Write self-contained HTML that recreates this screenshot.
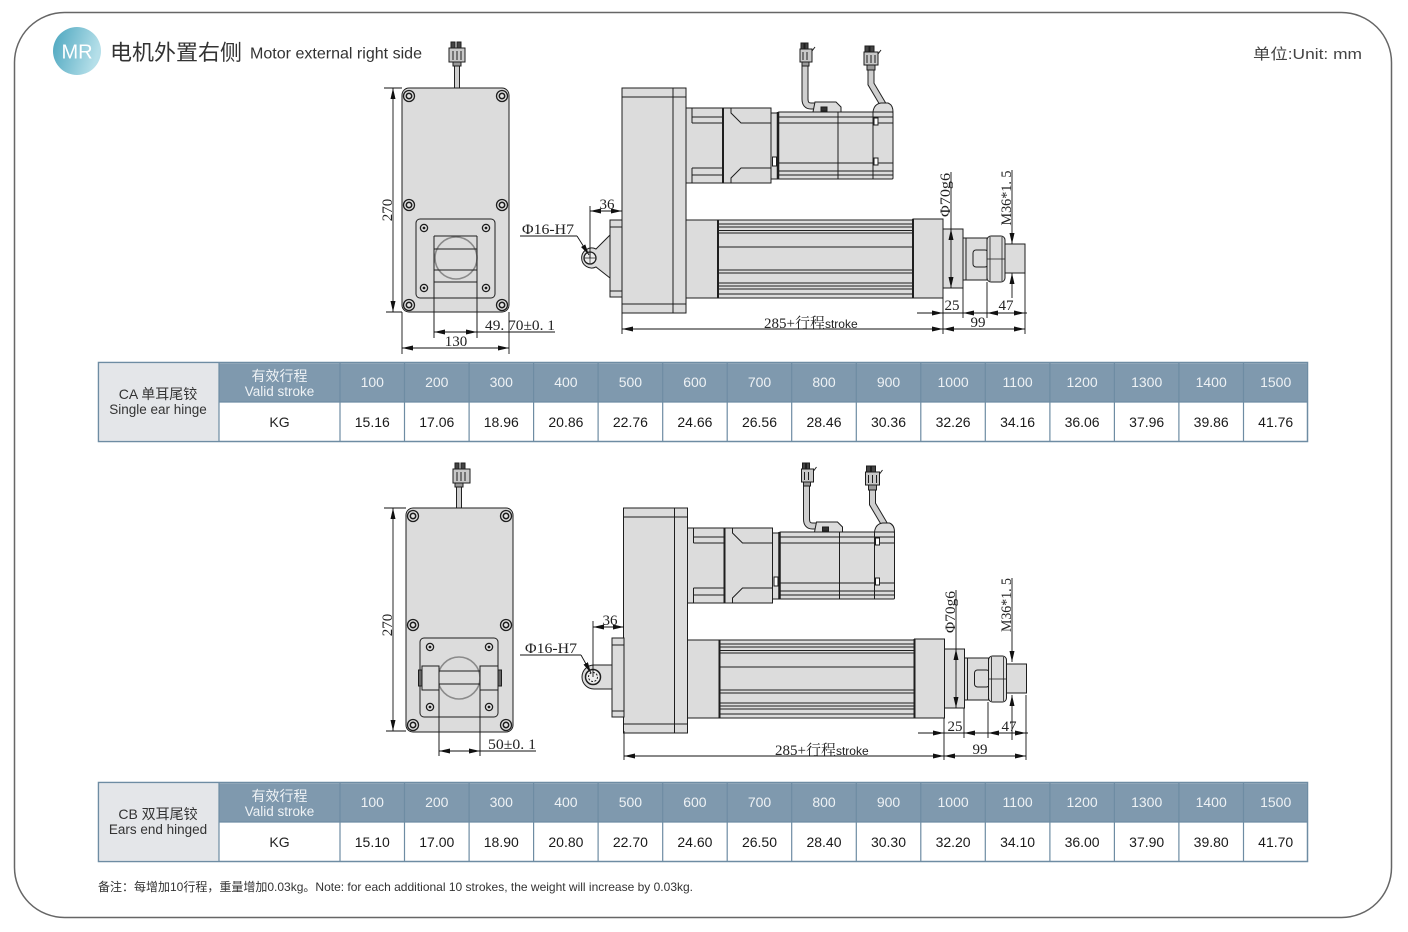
<!DOCTYPE html>
<html><head><meta charset="utf-8">
<style>
html,body{margin:0;padding:0;background:#fff;}
svg{display:block;}
.s{font-family:"Liberation Serif","Noto Serif CJK SC",serif;font-size:15px;fill:#222;}
.t{font-family:"Liberation Sans","Noto Sans CJK SC",sans-serif;}
</style></head><body>
<svg width="1408" height="932" viewBox="0 0 1408 932" xmlns="http://www.w3.org/2000/svg">
<defs>
<linearGradient id="mr" x1="0" y1="0" x2="1" y2="0.3">
 <stop offset="0" stop-color="#4aa5be"/><stop offset="1" stop-color="#b5dfe9"/>
</linearGradient>
<marker id="ar" viewBox="0 0 11 5" refX="11" refY="2.5" markerWidth="11" markerHeight="5" markerUnits="userSpaceOnUse" orient="auto-start-reverse"><path d="M0,0L11,2.5L0,5z" fill="#111"/></marker>

<g id="body" stroke="#1e1e1e" stroke-width="1" fill="#dcdcdc">
 <!-- housing -->
 <rect x="622" y="88" width="51" height="225"/>
 <rect x="673" y="88" width="13" height="225"/>
 <path d="M622 97H686M622 304H686" fill="none"/>
 <!-- reducer -->
 <rect x="686" y="108" width="37" height="75"/>
 <path d="M692 108V123M692 168V183M692 117H723M692 123H723M692 168H723M692 175H723" fill="none"/>
 <rect x="723" y="108" width="48" height="75"/>
 <path d="M723 108V183" stroke-width="2" fill="none"/>
 <path d="M731 108V113L741 123H771M731 183V178L741 168H771" fill="none"/>
 <rect x="771" y="113" width="7" height="66"/>
 <rect x="772.5" y="157" width="4" height="9" fill="#fff"/>
 <!-- cables -->
 <path d="M815 106H811Q805 106 805 99V66" fill="none" stroke="#222" stroke-width="7"/>
 <path d="M815 106H811Q805 106 805 99V66" fill="none" stroke="#cfcfcf" stroke-width="5"/>
 <path d="M884 106L871 84V70" fill="none" stroke="#222" stroke-width="7"/>
 <path d="M884 106L871 84V70" fill="none" stroke="#cfcfcf" stroke-width="5"/>
 <!-- connector 1 -->
 <rect x="800" y="49" width="12" height="13" fill="#c8c8c8"/>
 <rect x="801" y="43" width="3" height="6" fill="#444"/><rect x="805" y="43" width="3" height="6" fill="#444"/>
 <path d="M803 52V60M807 52V60" fill="none"/>
 <path d="M812 51L815 47" fill="none"/>
 <rect x="802" y="62" width="7" height="4" fill="#999"/>
 <!-- connector 2 -->
 <rect x="864" y="52" width="14" height="13" fill="#c8c8c8"/>
 <rect x="865" y="46" width="4" height="6" fill="#444"/><rect x="870" y="46" width="4" height="6" fill="#444"/>
 <path d="M867 55V63M871 55V63M875 55V63" fill="none"/>
 <path d="M878 54L881 50" fill="none"/>
 <rect x="867" y="65" width="8" height="5" fill="#999"/>
 <!-- motor -->
 <rect x="778" y="112" width="115" height="67" rx="1"/>
 <path d="M778 112V179" stroke-width="2.5" fill="none"/>
 <path d="M778 117H893M778 123H893M778 163H893M778 171H893M778 175H893M838 112V179M873 112V179" fill="none"/>
 <rect x="874" y="118" width="4" height="7" fill="#fff"/>
 <rect x="874" y="158" width="4" height="7" fill="#fff"/>
 <path d="M813 112L815 102H836L841 107V112Z"/>
 <rect x="821" y="107" width="6" height="4" fill="#333"/>
 <path d="M873 112Q874 104 881 103H888Q893 105 893 112Z"/>
 <!-- tube -->
 <rect x="686" y="220" width="32" height="78"/>
 <rect x="718" y="220" width="195" height="78"/>
 <path d="M718 220V298" stroke-width="2" fill="none"/>
 <path d="M718 224H913M718 227H913M718 230.5H913M718 233H913M718 247H913M718 270H913M718 273H913M718 283H913M718 286H913M718 289H913M718 294H913" fill="none"/>
 <rect x="913" y="219" width="30" height="79"/>
 <path d="M913 219V298" stroke-width="2" fill="none"/>
 <!-- rod end -->
 <rect x="943" y="229" width="20" height="59"/>
 <rect x="963" y="238" width="24" height="42"/>
 <path d="M966 238V280" fill="none"/>
 <rect x="973" y="250" width="15" height="17" rx="3"/>
 <rect x="987" y="236" width="18" height="46" rx="4"/>
 <path d="M987 259H1005M990 237V281M1002 237V281" fill="none" stroke-width="0.8"/>
 <rect x="1005" y="244" width="20" height="29"/>
</g>

<g id="plate">
 <rect x="402" y="88" width="107" height="224" rx="7" fill="#dcdcdc" stroke="#1e1e1e"/>
 <g fill="#e6e6e6" stroke="#1e1e1e" stroke-width="1.3">
  <circle cx="409" cy="96" r="5.5"/><circle cx="502" cy="96" r="5.5"/>
  <circle cx="409" cy="205" r="5.5"/><circle cx="502" cy="205" r="5.5"/>
  <circle cx="409" cy="305" r="5.5"/><circle cx="502" cy="305" r="5.5"/>
 </g>
 <g fill="none" stroke="#1e1e1e" stroke-width="1.6">
  <circle cx="409" cy="96" r="2.7"/><circle cx="502" cy="96" r="2.7"/>
  <circle cx="409" cy="205" r="2.7"/><circle cx="502" cy="205" r="2.7"/>
  <circle cx="409" cy="305" r="2.7"/><circle cx="502" cy="305" r="2.7"/>
 </g>
</g>
</defs>

<!-- page border -->
<rect x="14.5" y="12.5" width="1377" height="905" rx="50" fill="#fff" stroke="#666" stroke-width="1.5"/>

<!-- header -->
<circle cx="77" cy="51" r="24" fill="url(#mr)"/>
<text x="77" y="58.5" text-anchor="middle" class="t" font-size="20" fill="#fff">MR</text>
<text x="110" y="60" class="t" font-size="21.5" fill="#333" textLength="132" lengthAdjust="spacingAndGlyphs">电机外置右侧</text>
<text x="250" y="58.5" class="t" font-size="16" fill="#333" textLength="172" lengthAdjust="spacingAndGlyphs">Motor external right side</text>
<text x="1253" y="59" class="t" font-size="15" fill="#444" textLength="109" lengthAdjust="spacingAndGlyphs">单位:Unit: mm</text>

<!-- ============ DRAWING 1 ============ -->
<!-- left view -->
<path d="M457 66V88" stroke="#222" stroke-width="6"/>
<path d="M457 66V88" stroke="#cfcfcf" stroke-width="4"/>
<g stroke="#1e1e1e" stroke-width="1">
 <rect x="449" y="48" width="16" height="14" fill="#c8c8c8"/>
 <rect x="451" y="42" width="4" height="6" fill="#444"/><rect x="457" y="42" width="4" height="6" fill="#444"/>
 <path d="M453 51V60M457 51V60M461 51V60" fill="none"/>
 <rect x="453" y="62" width="8" height="4" fill="#999"/>
</g>
<use href="#plate"/>
<g stroke="#1e1e1e" stroke-width="1">
 <rect x="416" y="219" width="79" height="79" rx="4" fill="#dcdcdc"/>
 <g fill="#e6e6e6" stroke-width="1.3">
  <circle cx="424" cy="228" r="3.6"/><circle cx="486" cy="228" r="3.6"/>
  <circle cx="424" cy="288" r="3.6"/><circle cx="486" cy="288" r="3.6"/>
 </g>
 <g fill="#1e1e1e" stroke="none">
  <circle cx="424" cy="228" r="1.4"/><circle cx="486" cy="228" r="1.4"/>
  <circle cx="424" cy="288" r="1.4"/><circle cx="486" cy="288" r="1.4"/>
 </g>
 <circle cx="456" cy="258" r="21" fill="none" stroke="#8a8a8a" stroke-width="1.6"/>
 <path d="M434 236H477M434 249H477M434 270H477M434 282H477M434 236V338M477 236V338" fill="none"/>
</g>
<!-- side view -->
<use href="#body"/>
<g stroke="#1e1e1e" stroke-width="1" fill="#dcdcdc">
 <rect x="610" y="220" width="12" height="77"/>
 <path d="M610 227H622M610 291H622" fill="none"/>
 <path d="M610 235L596 249A10 10 0 1 0 596 267L610 278Z"/>
 <circle cx="590" cy="258" r="6" fill="#eee" stroke-width="1.3"/>
 <path d="M584 258H596M590 252V264" fill="none" stroke-width="0.7"/>
</g>

<!-- dims drawing 1 -->
<g stroke="#111" stroke-width="0.9" fill="none">
 <path d="M384 88H402M386 312H402"/>
 <line x1="393" y1="88" x2="393" y2="312" marker-start="url(#ar)" marker-end="url(#ar)"/>
 <path d="M402 312V354M509 312V354"/>
 <line x1="434" y1="332" x2="477" y2="332" marker-start="url(#ar)" marker-end="url(#ar)"/>
 <path d="M477 332H555"/>
 <line x1="402" y1="348" x2="509" y2="348" marker-start="url(#ar)" marker-end="url(#ar)"/>
 <path d="M590 206V258"/>
 <line x1="590" y1="211" x2="622" y2="211" marker-start="url(#ar)" marker-end="url(#ar)"/>
 <path d="M520 236H577"/>
 <line x1="577" y1="236" x2="589" y2="255" marker-end="url(#ar)"/>
 <path d="M951 172V229"/>
 <line x1="951" y1="229" x2="951" y2="288" marker-start="url(#ar)" marker-end="url(#ar)"/>
 <line x1="1012" y1="170" x2="1012" y2="244" marker-end="url(#ar)"/>
 <line x1="1012" y1="298" x2="1012" y2="273" marker-end="url(#ar)"/>
 <path d="M622 313V334M943 298V334M963 288V318M987 282V318M1025 273V334"/>
 <line x1="622" y1="329" x2="943" y2="329" marker-start="url(#ar)" marker-end="url(#ar)"/>
 <line x1="943" y1="329" x2="1025" y2="329" marker-start="url(#ar)" marker-end="url(#ar)"/>
 <path d="M917 313H1027"/>
 <line x1="929" y1="313" x2="943" y2="313" marker-end="url(#ar)"/>
 <line x1="977" y1="313" x2="963" y2="313" marker-end="url(#ar)"/>
 <line x1="1000" y1="313" x2="987" y2="313" marker-end="url(#ar)"/>
 <line x1="1012" y1="313" x2="1025" y2="313" marker-end="url(#ar)"/>
</g>
<g class="s">
 <text transform="translate(392,210) rotate(-90)" text-anchor="middle">270</text>
 <text x="456" y="346" text-anchor="middle">130</text>
 <text x="485" y="330" textLength="70" lengthAdjust="spacingAndGlyphs">49. 70±0. 1</text>
 <text x="607" y="209" text-anchor="middle">36</text>
 <text x="522" y="234" textLength="52" lengthAdjust="spacingAndGlyphs">Φ16-H7</text>
 <text transform="translate(950,195) rotate(-90)" text-anchor="middle" textLength="44" lengthAdjust="spacingAndGlyphs">Φ70g6</text>
 <text transform="translate(1011,198) rotate(-90)" text-anchor="middle" textLength="55" lengthAdjust="spacingAndGlyphs">M36*1. 5</text>
 <text x="952" y="310" text-anchor="middle">25</text>
 <text x="1006" y="310" text-anchor="middle">47</text>
 <text x="978" y="327" text-anchor="middle">99</text>
 <text x="764" y="328">285+行程<tspan class="t" font-size="12">stroke</tspan></text>
</g>

<!-- table 1 -->
<g class="t" font-size="14">
 <rect x="98.5" y="362.5" width="1209" height="79" fill="#fff" stroke="#6e8ca3" stroke-width="1.5"/>
 <rect x="99.3" y="363.3" width="119.7" height="77.4" fill="#e4e6e9"/>
 <rect x="219" y="363.3" width="1088" height="38.7" fill="#7f99ae"/>
 <g stroke="#6e8ca3" stroke-width="1.2">
  <path d="M219 362V442M340 362V442M404.5 362V442M469.1 362V442M533.6 362V442M598.1 362V442M662.7 362V442M727.2 362V442M791.7 362V442M856.3 362V442M920.8 362V442M985.3 362V442M1049.9 362V442M1114.4 362V442M1178.9 362V442M1243.5 362V442M219 402H1308"/>
 </g>
 <text x="158" y="399" text-anchor="middle" fill="#333">CA 单耳尾铰</text>
 <text x="158" y="414" text-anchor="middle" fill="#333" font-size="13.5">Single ear hinge</text>
 <text x="279.5" y="381" text-anchor="middle" fill="#eef2f5">有效行程</text>
 <text x="279.5" y="396" text-anchor="middle" fill="#eef2f5" font-size="13.5">Valid stroke</text>
 <text x="279.5" y="427" text-anchor="middle" fill="#222">KG</text>
 <g fill="#eef2f5" text-anchor="middle">
  <text x="372.3" y="387">100</text><text x="436.8" y="387">200</text><text x="501.3" y="387">300</text><text x="565.9" y="387">400</text><text x="630.4" y="387">500</text><text x="694.9" y="387">600</text><text x="759.5" y="387">700</text><text x="824" y="387">800</text><text x="888.5" y="387">900</text><text x="953.1" y="387">1000</text><text x="1017.6" y="387">1100</text><text x="1082.1" y="387">1200</text><text x="1146.7" y="387">1300</text><text x="1211.2" y="387">1400</text><text x="1275.7" y="387">1500</text>
 </g>
 <g fill="#1a1a1a" text-anchor="middle">
  <text x="372.3" y="427">15.16</text><text x="436.8" y="427">17.06</text><text x="501.3" y="427">18.96</text><text x="565.9" y="427">20.86</text><text x="630.4" y="427">22.76</text><text x="694.9" y="427">24.66</text><text x="759.5" y="427">26.56</text><text x="824" y="427">28.46</text><text x="888.5" y="427">30.36</text><text x="953.1" y="427">32.26</text><text x="1017.6" y="427">34.16</text><text x="1082.1" y="427">36.06</text><text x="1146.7" y="427">37.96</text><text x="1211.2" y="427">39.86</text><text x="1275.7" y="427">41.76</text>
 </g>
</g>

<!-- ============ DRAWING 2 ============ -->
<path d="M459 486V508" stroke="#222" stroke-width="6"/>
<path d="M459 486V508" stroke="#cfcfcf" stroke-width="4"/>
<g stroke="#1e1e1e" stroke-width="1">
 <rect x="453" y="469" width="17" height="14" fill="#c8c8c8"/>
 <rect x="455" y="463" width="4" height="6" fill="#444"/><rect x="461" y="463" width="4" height="6" fill="#444"/>
 <path d="M457 472V481M461 472V481M465 472V481" fill="none"/>
 <rect x="455" y="483" width="8" height="4" fill="#999"/>
</g>
<use href="#plate" transform="translate(4,420)"/>
<g stroke="#1e1e1e" stroke-width="1">
 <rect x="420" y="638" width="78" height="79" rx="4" fill="#dcdcdc"/>
 <g fill="#e6e6e6" stroke-width="1.3">
  <circle cx="430" cy="647" r="3.6"/><circle cx="489" cy="647" r="3.6"/>
  <circle cx="430" cy="707" r="3.6"/><circle cx="489" cy="707" r="3.6"/>
 </g>
 <g fill="#1e1e1e" stroke="none">
  <circle cx="430" cy="647" r="1.4"/><circle cx="489" cy="647" r="1.4"/>
  <circle cx="430" cy="707" r="1.4"/><circle cx="489" cy="707" r="1.4"/>
 </g>
 <circle cx="459" cy="678" r="21" fill="none" stroke="#8a8a8a" stroke-width="1.6"/>
 <path d="M439 671H480M439 684H480" fill="none"/>
 <rect x="422" y="666" width="17" height="24" fill="#dcdcdc"/>
 <rect x="480" y="666" width="18" height="24" fill="#dcdcdc"/>
 <rect x="418.5" y="670" width="3.5" height="16" fill="#666"/>
 <rect x="498" y="670" width="3.5" height="16" fill="#666"/>
 <path d="M439 690V756M480 690V756" fill="none"/>
</g>
<use href="#body" transform="translate(1.5,420)"/>
<g stroke="#1e1e1e" stroke-width="1" fill="#dcdcdc">
 <rect x="612" y="638" width="12" height="79"/>
 <path d="M612 645H624M612 711H624" fill="none"/>
 <path d="M612 665H594A12 12 0 0 0 594 689H612Z"/>
 <circle cx="593" cy="677" r="7.5" fill="#eee" stroke-width="1.5"/>
 <circle cx="593" cy="677" r="4.5" fill="none" stroke-width="1" stroke-dasharray="2 1.5"/>
</g>

<!-- dims drawing 2 -->
<g stroke="#111" stroke-width="0.9" fill="none">
 <path d="M384 508H406M386 731H406"/>
 <line x1="393" y1="508" x2="393" y2="731" marker-start="url(#ar)" marker-end="url(#ar)"/>
 <line x1="439" y1="751" x2="480" y2="751" marker-start="url(#ar)" marker-end="url(#ar)"/>
 <path d="M480 751H536"/>
 <path d="M593 621V677"/>
 <line x1="593" y1="627" x2="624" y2="627" marker-start="url(#ar)" marker-end="url(#ar)"/>
 <path d="M520 655H581"/>
 <line x1="581" y1="655" x2="591" y2="673" marker-end="url(#ar)"/>
 <path d="M956 590V649"/>
 <line x1="956" y1="649" x2="956" y2="708" marker-start="url(#ar)" marker-end="url(#ar)"/>
 <line x1="1012" y1="578" x2="1012" y2="662" marker-end="url(#ar)"/>
 <line x1="1012" y1="740" x2="1012" y2="695" marker-end="url(#ar)"/>
 <path d="M624 731V760M944 718V760M964 708V738M988 702V738M1026 695V760"/>
 <line x1="624" y1="756" x2="944" y2="756" marker-start="url(#ar)" marker-end="url(#ar)"/>
 <line x1="944" y1="756" x2="1026" y2="756" marker-start="url(#ar)" marker-end="url(#ar)"/>
 <path d="M918 733H1028"/>
 <line x1="930" y1="733" x2="944" y2="733" marker-end="url(#ar)"/>
 <line x1="978" y1="733" x2="964" y2="733" marker-end="url(#ar)"/>
 <line x1="1001" y1="733" x2="988" y2="733" marker-end="url(#ar)"/>
 <line x1="1013" y1="733" x2="1026" y2="733" marker-end="url(#ar)"/>
</g>
<g class="s">
 <text transform="translate(392,625) rotate(-90)" text-anchor="middle">270</text>
 <text x="488" y="749" textLength="48" lengthAdjust="spacingAndGlyphs">50±0. 1</text>
 <text x="610" y="625" text-anchor="middle">36</text>
 <text x="525" y="653" textLength="52" lengthAdjust="spacingAndGlyphs">Φ16-H7</text>
 <text transform="translate(955,612) rotate(-90)" text-anchor="middle" textLength="42" lengthAdjust="spacingAndGlyphs">Φ70g6</text>
 <text transform="translate(1011,605) rotate(-90)" text-anchor="middle" textLength="54" lengthAdjust="spacingAndGlyphs">M36*1. 5</text>
 <text x="955" y="731" text-anchor="middle">25</text>
 <text x="1009" y="731" text-anchor="middle">47</text>
 <text x="980" y="754" text-anchor="middle">99</text>
 <text x="775" y="755">285+行程<tspan class="t" font-size="12">stroke</tspan></text>
</g>

<!-- table 2 -->
<g class="t" font-size="14">
 <rect x="98.5" y="782.5" width="1209" height="79" fill="#fff" stroke="#6e8ca3" stroke-width="1.5"/>
 <rect x="99.3" y="783.3" width="119.7" height="77.4" fill="#e4e6e9"/>
 <rect x="219" y="783.3" width="1088" height="38.7" fill="#7f99ae"/>
 <g stroke="#6e8ca3" stroke-width="1.2">
  <path d="M219 782V862M340 782V862M404.5 782V862M469.1 782V862M533.6 782V862M598.1 782V862M662.7 782V862M727.2 782V862M791.7 782V862M856.3 782V862M920.8 782V862M985.3 782V862M1049.9 782V862M1114.4 782V862M1178.9 782V862M1243.5 782V862M219 822H1308"/>
 </g>
 <text x="158" y="819" text-anchor="middle" fill="#333">CB 双耳尾铰</text>
 <text x="158" y="834" text-anchor="middle" fill="#333" font-size="13.5">Ears end hinged</text>
 <text x="279.5" y="801" text-anchor="middle" fill="#eef2f5">有效行程</text>
 <text x="279.5" y="816" text-anchor="middle" fill="#eef2f5" font-size="13.5">Valid stroke</text>
 <text x="279.5" y="847" text-anchor="middle" fill="#222">KG</text>
 <g fill="#eef2f5" text-anchor="middle">
  <text x="372.3" y="807">100</text><text x="436.8" y="807">200</text><text x="501.3" y="807">300</text><text x="565.9" y="807">400</text><text x="630.4" y="807">500</text><text x="694.9" y="807">600</text><text x="759.5" y="807">700</text><text x="824" y="807">800</text><text x="888.5" y="807">900</text><text x="953.1" y="807">1000</text><text x="1017.6" y="807">1100</text><text x="1082.1" y="807">1200</text><text x="1146.7" y="807">1300</text><text x="1211.2" y="807">1400</text><text x="1275.7" y="807">1500</text>
 </g>
 <g fill="#1a1a1a" text-anchor="middle">
  <text x="372.3" y="847">15.10</text><text x="436.8" y="847">17.00</text><text x="501.3" y="847">18.90</text><text x="565.9" y="847">20.80</text><text x="630.4" y="847">22.70</text><text x="694.9" y="847">24.60</text><text x="759.5" y="847">26.50</text><text x="824" y="847">28.40</text><text x="888.5" y="847">30.30</text><text x="953.1" y="847">32.20</text><text x="1017.6" y="847">34.10</text><text x="1082.1" y="847">36.00</text><text x="1146.7" y="847">37.90</text><text x="1211.2" y="847">39.80</text><text x="1275.7" y="847">41.70</text>
 </g>
</g>

<!-- note -->
<text x="98" y="891" class="t" font-size="12" fill="#333" textLength="595" lengthAdjust="spacingAndGlyphs">备注：每增加10行程，重量增加0.03kg。Note: for each additional 10 strokes, the weight will increase by 0.03kg.</text>
</svg>
</body></html>
